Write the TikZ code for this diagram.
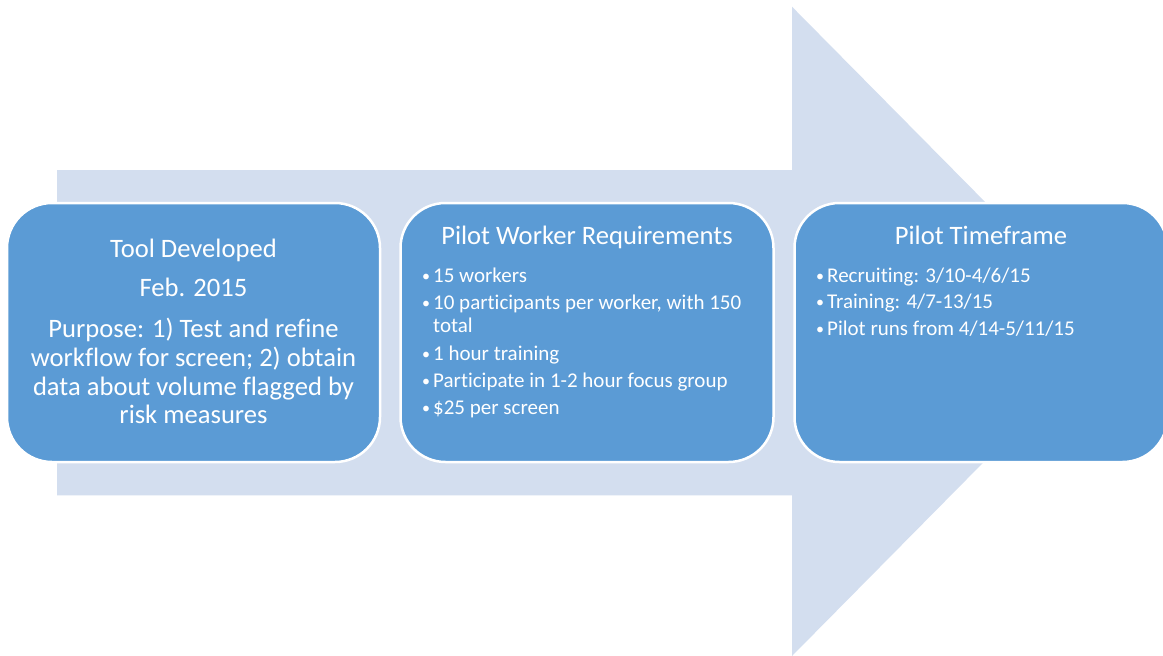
\documentclass[tikz,border=0pt]{standalone}
\usepackage{fontspec}
\setmainfont{Carlito}[RawFeature={-liga;-clig;-dlig;-calt}]
\definecolor{arrowfill}{RGB}{211,222,239}
\definecolor{boxfill}{RGB}{91,155,213}
\newcommand{\mybul}{\makebox[9pt][l]{\hspace{-2pt}\raisebox{1pt}{\fontsize{16}{16}\selectfont\textbullet}}}
\begin{document}
\begin{tikzpicture}[x=1pt,y=-1pt,
  box/.style={draw=white, line width=2.5pt, fill=boxfill, rounded corners=45pt,
    minimum width=373pt, minimum height=259pt, inner sep=0pt},
  ttl/.style={text=white, font=\fontsize{26.6}{28}\selectfont, anchor=base, inner sep=0pt},
  bul/.style={text=white, font=\fontsize{21}{23}\selectfont, anchor=base west, inner sep=0pt}]
\useasboundingbox (0,0) rectangle (1163,656);
% big arrow
\fill[arrowfill] (57,170) -- (792,170) -- (792,6.7) -- (1113,331.3) -- (792,656)
  -- (792,495.3) -- (57,495.3) -- cycle;
% boxes
\node[box] (b1) at (193.5,332.5) {};
\node[box] (b2) at (587,332.5) {};
\node[box] (b3) at (981,332.5) {};
% box 1 text
\node[ttl] (b1l1) at (193.5,257) {Tool Developed};
\node[ttl] (b1l2) at (193.5,296) {Feb. 2015};
\node[ttl] (b1l3) at (193.5,337) {Purpose: 1) Test and refine};
\node[ttl] (b1l4) at (193.5,366) {workflow for screen; 2) obtain};
\node[ttl] (b1l5) at (193.5,395) {data about volume flagged by};
\node[ttl] (b1l6) at (193.5,423) {risk measures};
% box 2 text
\node[ttl] (b2t) at (587,244) {Pilot Worker Requirements};
\node[bul] (b2a) at (424,282) {\mybul 15 workers};
\node[bul] (b2b) at (424,309) {\mybul 10 participants per worker, with 150};
\node[bul] (b2c) at (433,332) {total};
\node[bul] (b2d) at (424,360) {\mybul 1 hour training};
\node[bul] (b2e) at (424,387) {\mybul Participate in 1-2 hour focus group};
\node[bul] (b2f) at (424,414) {\mybul \$25 per screen};
% box 3 text
\node[ttl] (b3t) at (981,244) {Pilot Timeframe};
\node[bul] (b3a) at (818,282) {\mybul Recruiting: 3/10-4/6/15};
\node[bul] (b3b) at (818,308) {\mybul Training: 4/7-13/15};
\node[bul] (b3c) at (818,335) {\mybul Pilot runs from 4/14-5/11/15};
\end{tikzpicture}
\end{document}
